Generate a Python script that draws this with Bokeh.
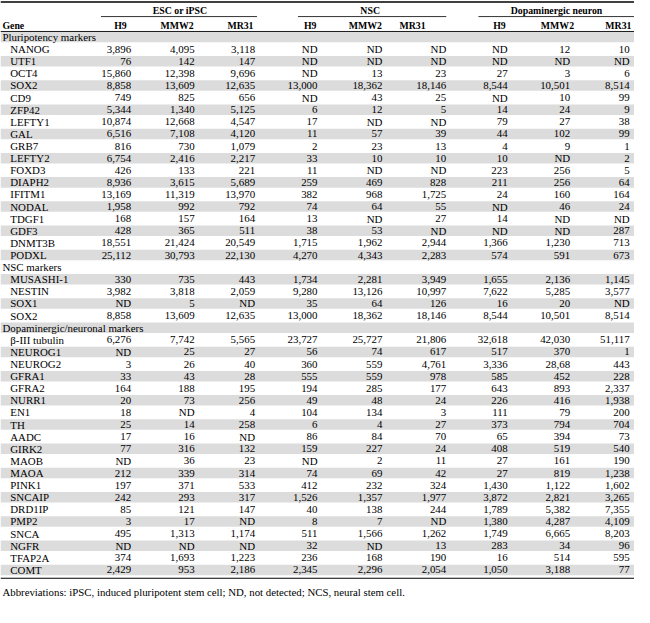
from bokeh.plotting import figure
from bokeh.models import Range1d, ColumnDataSource
from bokeh.core.properties import value
from bokeh.embed import file_html
from bokeh.resources import INLINE

# ---------------- data ----------------
sections = ["Pluripotency markers", "NSC markers", "Dopaminergic/neuronal markers"]
pluri_genes = ["NANOG", "UTF1", "OCT4", "SOX2", "CD9", "ZFP42", "LEFTY1", "GAL", "GRB7",
               "LEFTY2", "FOXD3", "DIAPH2", "IFITM1", "NODAL", "TDGF1", "GDF3", "DNMT3B", "PODXL"]
nsc_genes = ["MUSASHI-1", "NESTIN", "SOX1", "SOX2"]
dopa_genes = ["\u03b2-III tubulin", "NEUROG1", "NEUROG2", "GFRA1", "GFRA2", "NURR1", "EN1", "TH",
              "AADC", "GIRK2", "MAOB", "MAOA", "PINK1", "SNCAIP", "DRD1IP", "PMP2", "SNCA",
              "NGFR", "TFAP2A", "COMT"]

groups = ["ESC or iPSC", "NSC", "Dopaminergic neuron"]
col_labels = ["H9", "MMW2", "MR31", "H9", "MMW2", "MR31", "H9", "MMW2", "MR31"]

esc_h9 = ["3,896", "76", "15,860", "8,858", "749", "5,344", "10,874", "6,516", "816", "6,754", "426", "8,936", "13,169", "1,958", "168", "428", "18,551", "25,112",
          "330", "3,982", "ND", "8,858",
          "6,276", "ND", "3", "33", "164", "20", "18", "25", "17", "77", "ND", "212", "197", "242", "85", "3", "495", "ND", "374", "2,429"]
esc_mmw2 = ["4,095", "142", "12,398", "13,609", "825", "1,340", "12,668", "7,108", "730", "2,416", "133", "3,615", "11,319", "992", "157", "365", "21,424", "30,793",
            "735", "3,818", "5", "13,609",
            "7,742", "25", "26", "43", "188", "73", "ND", "14", "16", "316", "36", "339", "371", "293", "121", "17", "1,313", "ND", "1,693", "953"]
esc_mr31 = ["3,118", "147", "9,696", "12,635", "656", "5,125", "4,547", "4,120", "1,079", "2,217", "221", "5,689", "13,970", "792", "164", "511", "20,549", "22,130",
            "443", "2,059", "ND", "12,635",
            "5,565", "27", "40", "28", "195", "256", "4", "258", "ND", "132", "23", "314", "533", "317", "147", "ND", "1,174", "ND", "1,223", "2,186"]
nsc_h9 = ["ND", "ND", "ND", "13,000", "ND", "6", "17", "11", "2", "33", "11", "259", "382", "74", "13", "38", "1,715", "4,270",
          "1,734", "9,280", "35", "13,000",
          "23,727", "56", "360", "555", "194", "49", "104", "6", "86", "159", "ND", "74", "412", "1,526", "40", "8", "511", "32", "236", "2,345"]
nsc_mmw2 = ["ND", "ND", "13", "18,362", "43", "12", "ND", "57", "23", "10", "ND", "469", "968", "64", "ND", "53", "1,962", "4,343",
            "2,281", "13,126", "64", "18,362",
            "25,727", "74", "559", "559", "285", "48", "134", "4", "84", "227", "2", "69", "232", "1,357", "138", "7", "1,566", "ND", "168", "2,296"]
nsc_mr31 = ["ND", "ND", "23", "18,146", "25", "5", "ND", "39", "13", "10", "ND", "828", "1,725", "55", "27", "ND", "2,944", "2,283",
            "3,949", "10,997", "126", "18,146",
            "21,806", "617", "4,761", "978", "177", "24", "3", "27", "70", "24", "11", "42", "324", "1,977", "244", "ND", "1,262", "13", "190", "2,054"]
dn_h9 = ["ND", "ND", "27", "8,544", "ND", "14", "79", "44", "4", "10", "223", "211", "24", "ND", "14", "ND", "1,366", "574",
         "1,655", "7,622", "16", "8,544",
         "32,618", "517", "3,336", "585", "643", "226", "111", "373", "65", "408", "27", "27", "1,430", "3,872", "1,789", "1,380", "1,749", "283", "16", "1,050"]
dn_mmw2 = ["12", "ND", "3", "10,501", "10", "24", "27", "102", "9", "ND", "256", "256", "160", "46", "ND", "ND", "1,230", "591",
           "2,136", "5,285", "20", "10,501",
           "42,030", "370", "28,68", "452", "893", "416", "79", "794", "394", "519", "161", "819", "1,122", "2,821", "5,382", "4,287", "6,665", "34", "514", "3,188"]
dn_mr31 = ["10", "ND", "6", "8,514", "99", "9", "38", "99", "1", "2", "5", "64", "164", "24", "ND", "287", "713", "673",
           "1,145", "3,577", "ND", "8,514",
           "51,117", "1", "443", "228", "2,337", "1,938", "200", "704", "73", "540", "190", "1,238", "1,602", "3,265", "7,355", "4,109", "8,203", "96", "595", "77"]

footnote = "Abbreviations: iPSC, induced pluripotent stem cell; ND, not detected; NCS, neural stem cell."

columns = [esc_h9, esc_mmw2, esc_mr31, nsc_h9, nsc_mmw2, nsc_mr31, dn_h9, dn_mmw2, dn_mr31]

# ---------------- layout (reference pixel space 650 x 623) ----------------
FONT = "Liberation Serif"
BODY = "10.9px"
HEAD = "9.8px"
ROW0 = 37.5
PITCH = 12.43
col_right = [134, 199, 261, 325, 391.5, 457, 520, 584, 645]
head_center = [123, 181, 246, 317.5, 374, 422.5, 511.5, 571, 633.5]
group_center = [184, 379, 570]
group_line = [(103, 263), (305, 457), (490, 650)]

row_kind, row_label = [], []
for sec, genes in zip(sections, [pluri_genes, nsc_genes, dopa_genes]):
    row_kind.append("section"); row_label.append(sec)
    for g in genes:
        row_kind.append("gene"); row_label.append(g)
row_y = [ROW0 + PITCH * i for i in range(len(row_kind))]

p = figure(width=634, height=607, x_range=Range1d(0, 650), y_range=Range1d(623, 0),
           output_backend="svg", toolbar_location=None, min_border=0,
           x_axis_type=None, y_axis_type=None)
p.grid.visible = False
p.outline_line_color = None
p.background_fill_color = "white"
p.border_fill_color = "white"

# shading
shade_y = [y for i, y in enumerate(row_y) if i % 2 == 0]
p.rect(x=325, y=shade_y, width=650, height=10.8, fill_color="#dcdcdc", line_color=None)

# rules
p.segment(x0=[0], y0=[1.5], x1=[650], y1=[1.5], line_color="black", line_width=1.6)
p.segment(x0=[a for a, b in group_line], y0=[16.5] * 3, x1=[b for a, b in group_line], y1=[16.5] * 3,
          line_color="black", line_width=0.8)
p.segment(x0=[0], y0=[31.8], x1=[650], y1=[31.8], line_color="black", line_width=0.9)
bottom_y = row_y[-1] + 8.6
p.segment(x0=[0], y0=[bottom_y], x1=[650], y1=[bottom_y], line_color="black", line_width=1.1)

# headers
p.text(x=group_center, y=[10] * 3, text=groups, text_font=value(FONT), text_font_style="bold",
       text_font_size=HEAD, text_align="center", text_baseline="middle", text_color="black")
p.text(x=[2], y=[26], text=["Gene"], text_font=value(FONT), text_font_style="bold",
       text_font_size=HEAD, text_align="left", text_baseline="middle", text_color="black")
p.text(x=head_center, y=[26] * 9, text=col_labels, text_font=value(FONT), text_font_style="bold",
       text_font_size=HEAD, text_align="center", text_baseline="middle", text_color="black")

# row labels
sec_y = [y for k, y in zip(row_kind, row_y) if k == "section"]
sec_t = [t for k, t in zip(row_kind, row_label) if k == "section"]
gene_y = [y for k, y in zip(row_kind, row_y) if k == "gene"]
gene_t = [t for k, t in zip(row_kind, row_label) if k == "gene"]
p.text(x=[2] * len(sec_y), y=sec_y, text=sec_t, text_font=value(FONT), text_font_size=BODY,
       text_align="left", text_baseline="middle", text_color="black")
p.text(x=[10] * len(gene_y), y=gene_y, text=gene_t, text_font=value(FONT), text_font_size=BODY,
       text_align="left", text_baseline="middle", text_color="black")

# values
for xr, col in zip(col_right, columns):
    src = ColumnDataSource(dict(x=[xr] * len(col), y=gene_y, t=col))
    p.text(x="x", y="y", text="t", source=src, text_font=value(FONT), text_font_size=BODY,
           text_align="right", text_baseline="middle", text_color="black")

# footnote
p.text(x=[2], y=[bottom_y + 14.5], text=[footnote], text_font=value(FONT), text_font_size="10.8px",
       text_align="left", text_baseline="middle", text_color="black")

open("out.html", "w").write(file_html(p, INLINE))
